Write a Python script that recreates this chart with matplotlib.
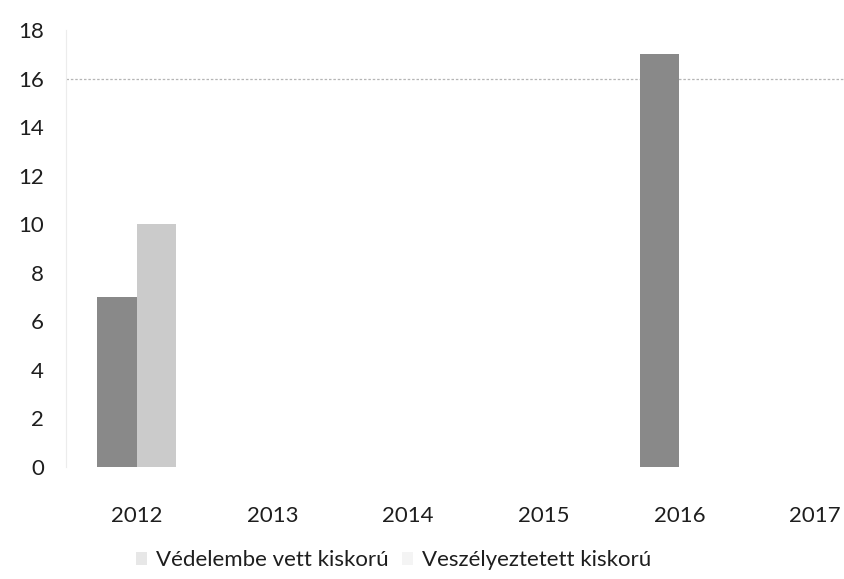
import numpy as np
import matplotlib
matplotlib.use("Agg")
import matplotlib.pyplot as plt

plt.rcParams["font.family"] = ["Lato", "DejaVu Sans"]

years = ["2012", "2013", "2014", "2015", "2016", "2017"]
vedelembe = [7, 0, 0, 0, 17, 0]
veszelyeztetett = [10, 0, 0, 0, 0, 0]
series_names = ["Védelembe vett kiskorú", "Veszélyeztetett kiskorú"]
y_ticks = [0, 2, 4, 6, 8, 10, 12, 14, 16, 18]

fig = plt.figure(figsize=(8.45, 5.79), dpi=100)
ax = fig.add_axes([66 / 845, 112 / 579, (845 - 66) / 845, 437 / 579])

x = np.arange(len(years))
w = 0.29
ax.bar(x - w / 2, vedelembe, w, color="#898989", label=series_names[0])
ax.bar(x + w / 2, veszelyeztetett, w, color="#cbcbcb", label=series_names[1])

ax.set_xlim(-0.52, 5.22)
ax.set_ylim(0, 18)
ax.set_yticks(y_ticks)
ax.set_xticks(x)
ax.set_xticklabels(years)
ax.tick_params(axis="both", length=0, labelsize=16, colors="#1e1e1e")
ax.tick_params(axis="x", pad=28)
ax.tick_params(axis="y", pad=16)

for s in ["top", "right", "bottom"]:
    ax.spines[s].set_visible(False)
ax.spines["left"].set_color("#ececec")

# only the 16 gridline survived the scan
ax.axhline(16, color="#b5b5b5", lw=0.9, ls=(0, (2, 1.5)), zorder=0)

ax.legend(loc="upper center", bbox_to_anchor=(0.42, -0.145), ncol=2, frameon=False,
          fontsize=16, handlelength=0.5, handleheight=0.5, handletextpad=0.4,
          columnspacing=0.6, labelcolor="#1e1e1e")
leg = ax.get_legend()
for h in leg.legend_handles:
    h.set_alpha(0.2)

fig.savefig("out.png", dpi=100)
